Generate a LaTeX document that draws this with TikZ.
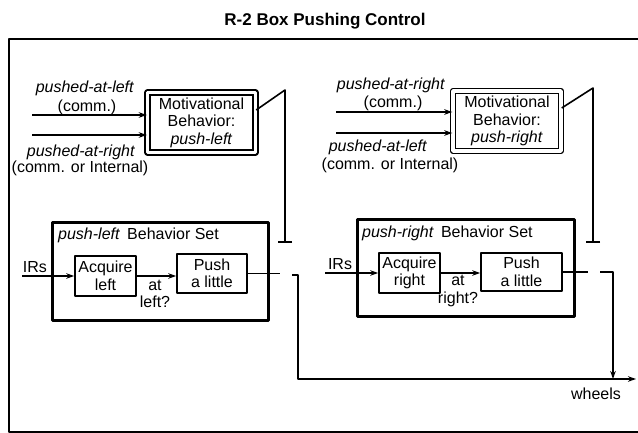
\documentclass[tikz,border=0pt]{standalone}
\usepackage{fontspec}
\setmainfont{Liberation Sans}
\usetikzlibrary{arrows.meta}
\begin{document}
\begin{tikzpicture}[x=1pt, y=-1pt, font=\fontsize{16}{17.5}\selectfont, line join=round, >={Stealth[length=8pt,width=5.5pt]},
	box/.style={draw, line width=1.6pt, inner sep=0pt, align=center},
	mot/.style={box, double, double distance=3.5pt, line width=1.4pt, minimum width=108pt, minimum height=60pt},
	bset/.style={draw, line width=2.8pt, inner sep=0pt},
	lab/.style={inner sep=0pt, align=center},
	wire/.style={line width=1.8pt},
	act/.style={line width=1.6pt, -{Bar[width=14pt,line width=1.8pt]}}]
	\useasboundingbox (0,0) rectangle (638,433);
	\draw[line width=2.5pt] (638,39) -- (9,39) -- (9,432) -- (638,432);
	\node[lab, font=\bfseries\fontsize{17}{18}\selectfont] (title) at (325,21) {R-2 Box Pushing Control};
	% motivational behaviors
	\node[mot] (motL) at (201.5,122.5) {Motivational\\Behavior:\\\textit{push-left}};
	\node[mot] (motR) at (507,121) {Motivational\\Behavior:\\\textit{push-right}};
	\node[lab] (pL1) at (85,88) {\textit{pushed-at-left}};
	\node[lab] (cL1) at (87,107) {(comm.)};
	\node[lab] (pL2) at (81,152) {\textit{pushed-at-right}};
	\node[lab] (cL2) at (80,168) {(comm. or Internal)};
	\node[lab] (pR1) at (391,85) {\textit{pushed-at-right}};
	\node[lab] (cR1) at (393,103) {(comm.)};
	\node[lab] (pR2) at (378,147) {\textit{pushed-at-left}};
	\node[lab] (cR2) at (390,165) {(comm. or Internal)};
	\foreach \n/\x/\y in {L1/32/115, L2/32/135, R1/336/112, R2/336/133} \coordinate (in\n) at (\x,\y);
	\foreach \n/\m in {L1/L, L2/L, R1/R, R2/R} \draw[wire,->] (in\n) -- (in\n -| mot\m.west);
	\coordinate (topL) at (285,90); \coordinate (endL) at (285,243);
	\coordinate (topR) at (593,88); \coordinate (endR) at (593,243);
	\draw[act] (motL.east |- 0,110) -- (topL) -- (endL);
	\draw[act] (motR.east |- 0,108) -- (topR) -- (endR);
	% behavior sets
	\node[bset, minimum width=216pt, minimum height=98pt] (setL) at (160.5,271.5) {};
	\node[bset, minimum width=217pt, minimum height=97pt] (setR) at (466,268) {};
	\node[lab, anchor=west] (tL) at (58,235) {\textit{push-left}\, Behavior Set};
	\node[lab, anchor=west] (tR) at (362,233) {\textit{push-right}\, Behavior Set};
	\node[box, minimum width=61pt, minimum height=40pt] (acqL) at (105.5,276) {Acquire\\left};
	\node[box, minimum width=70pt, minimum height=39pt] (pushL) at (212,273.5) {Push\\a little};
	\node[box, minimum width=61pt, minimum height=40pt] (acqR) at (409.5,273) {Acquire\\right};
	\node[box, minimum width=81pt, minimum height=38pt] (pushR) at (521.5,272) {Push\\a little};
	\node[lab] (irL) at (35,267) {IRs};
	\node[lab] (irR) at (340,264) {IRs};
	\node[lab] (qL) at (155,294) {at\\left?};
	\node[lab] (qR) at (458,291) {at\\right?};
	\coordinate (irLs) at (22,276); \coordinate (irRs) at (325,273);
	\draw[wire,->] (irLs) -- (irLs -| acqL.west);
	\draw[wire,->] (irRs) -- (irRs -| acqR.west);
	\draw[wire,->] (acqL.east) -- (acqL.east -| pushL.west);
	\draw[wire,->] (acqR.east) -- (acqR.east -| pushR.west);
	% outputs to wheels
	\coordinate (swL) at (280,275); \coordinate (swL2) at (292,275);
	\coordinate (swR) at (588,272); \coordinate (swR2) at (600,272);
	\coordinate (cornL) at (298,379); \coordinate (joinR) at (613,379); \coordinate (wh) at (636,379);
	\draw[wire] (pushL.east) -- (pushL.east -| swL);
	\draw[wire] (pushR.east) -- (pushR.east -| swR);
	\draw[wire,->] (swL2) -| (cornL) -- (wh);
	\draw[wire,->] (swR2) -| (joinR);
	\node[lab] (wheels) at (596,394) {wheels};
\end{tikzpicture}
\end{document}
